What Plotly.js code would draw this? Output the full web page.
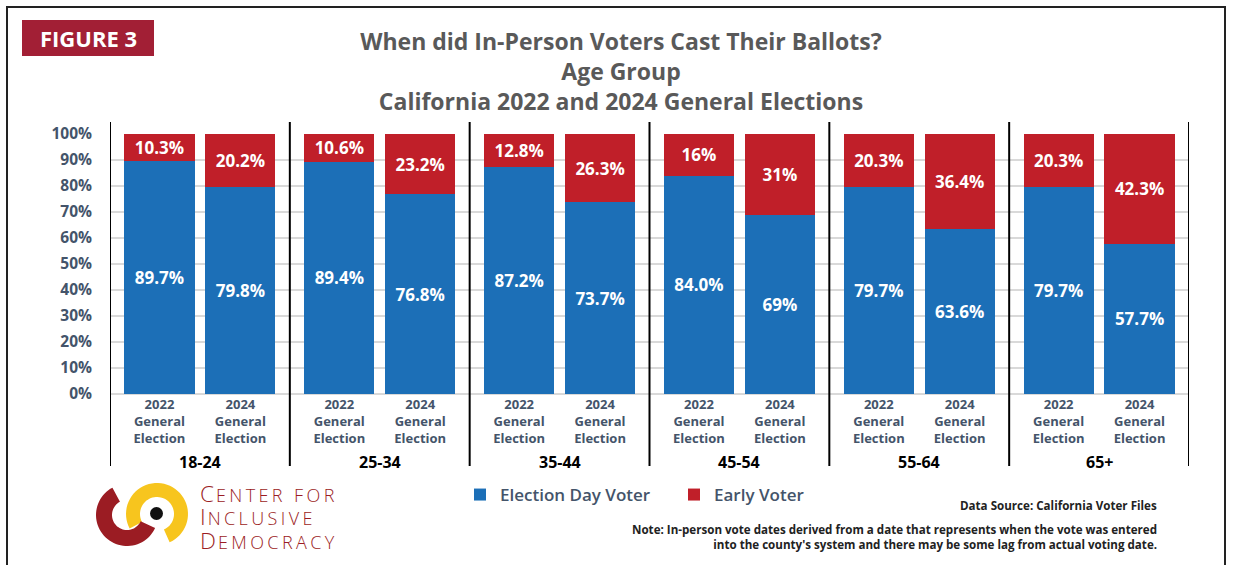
<!DOCTYPE html>
<html>
<head>
<meta charset="utf-8">
<script src="https://cdn.plot.ly/plotly-3.0.1.min.js"></script>
<style>html,body{margin:0;padding:0;background:#fff;}#chart{width:1233px;height:565px;}</style>
</head>
<body>
<div id="chart"></div>
<script>
// ---------- DATA ----------
const ageGroups = ['18-24', '25-34', '35-44', '45-54', '55-64', '65+'];
const electionYears = ['2022', '2024'];
const electionDay2022 = [89.7, 89.4, 87.2, 84.0, 79.7, 79.7];
const electionDay2024 = [79.8, 76.8, 73.7, 69, 63.6, 57.7];
const early2022 = [10.3, 10.6, 12.8, 16, 20.3, 20.3];
const early2024 = [20.2, 23.2, 26.3, 31, 36.4, 42.3];
const electionDayLabels2022 = ['89.7%', '89.4%', '87.2%', '84.0%', '79.7%', '79.7%'];
const electionDayLabels2024 = ['79.8%', '76.8%', '73.7%', '69%', '63.6%', '57.7%'];
const earlyLabels2022 = ['10.3%', '10.6%', '12.8%', '16%', '20.3%', '20.3%'];
const earlyLabels2024 = ['20.2%', '23.2%', '26.3%', '31%', '36.4%', '42.3%'];
const yTicks = [0, 10, 20, 30, 40, 50, 60, 70, 80, 90, 100];

// ---------- LAYOUT HELPERS ----------
const L = 110, T = 134, W = 1079, H = 260;
const px = v => (v - L) / W;
const py = v => (T + H - v) / H;
const slotOffset = [0.275, 0.725];
const barWidth = 0.39;

const xs = [], dayY = [], earlyY = [], dayT = [], earlyT = [], tickText = [];
ageGroups.forEach((g, i) => {
  xs.push(i + slotOffset[0], i + slotOffset[1]);
  dayY.push(electionDay2022[i], electionDay2024[i]);
  earlyY.push(early2022[i], early2024[i]);
  dayT.push(electionDayLabels2022[i], electionDayLabels2024[i]);
  earlyT.push(earlyLabels2022[i], earlyLabels2024[i]);
  electionYears.forEach(yr => tickText.push(yr + '<br>General<br>Election'));
});

const BLUE = '#1c6fb7', RED = '#c01f29', SLATE = '#44546a';
const barFont = {family: 'Open Sans', size: 17, color: '#ffffff', weight: 700};

const traces = [
  {type: 'bar', name: 'Election Day Voter', x: xs, y: dayY, text: dayT, width: barWidth,
   marker: {color: BLUE}, textposition: 'inside', insidetextanchor: 'middle',
   textfont: barFont, constraintext: 'none', hoverinfo: 'skip'},
  {type: 'bar', name: 'Early Voter', x: xs, y: earlyY, text: earlyT, width: barWidth,
   marker: {color: RED}, textposition: 'inside', insidetextanchor: 'middle',
   textfont: barFont, constraintext: 'none', hoverinfo: 'skip'}
];

const annotations = [];
const shapes = [];
ageGroups.forEach((g, i) => {
  annotations.push({x: i + 0.5, xref: 'x', y: py(462), yref: 'paper', text: g, showarrow: false,
    yanchor: 'middle', font: {family: 'Open Sans', size: 16, color: '#000', weight: 700}});
});
for (let i = 0; i <= ageGroups.length; i++) {
  shapes.push({type: 'line', xref: 'x', yref: 'paper', x0: i, x1: i, y0: py(466), y1: py(122),
    line: {color: '#000', width: 2}});
}
// outer frame
shapes.push({type: 'rect', xref: 'paper', yref: 'paper', x0: px(7), x1: px(1225), y0: py(590), y1: py(7),
  line: {color: '#222', width: 2}, fillcolor: 'rgba(0,0,0,0)', layer: 'below'});
// FIGURE 3 box
shapes.push({type: 'rect', xref: 'paper', yref: 'paper', x0: px(22), x1: px(154), y0: py(56), y1: py(20),
  line: {width: 0}, fillcolor: '#a21f35'});
annotations.push({x: px(88), y: py(38), xref: 'paper', yref: 'paper', text: 'FIGURE 3', showarrow: false,
  xanchor: 'center', yanchor: 'middle', font: {family: 'Open Sans', size: 22, color: '#fff', weight: 700}});

// logo rings
function ring(cx, cy, ri, ro, a0, a1) {
  const n = 48, pts = [];
  for (let k = 0; k <= n; k++) {
    const a = (a0 + (a1 - a0) * k / n) * Math.PI / 180;
    pts.push([cx + ro * Math.cos(a), cy - ro * Math.sin(a)]);
  }
  for (let k = n; k >= 0; k--) {
    const a = (a0 + (a1 - a0) * k / n) * Math.PI / 180;
    pts.push([cx + ri * Math.cos(a), cy - ri * Math.sin(a)]);
  }
  return 'M' + pts.map(p => px(p[0]).toFixed(5) + ',' + py(p[1]).toFixed(5)).join('L') + 'Z';
}
shapes.push({type: 'path', xref: 'paper', yref: 'paper', path: ring(157, 514, 17, 31, -66, 208),
  fillcolor: '#f7c51e', line: {width: 0}});
shapes.push({type: 'path', xref: 'paper', yref: 'paper', path: ring(127, 515, 15, 31, 118, 335),
  fillcolor: '#9b1c23', line: {width: 0}});
shapes.push({type: 'circle', xref: 'paper', yref: 'paper', x0: px(150), x1: px(163), y0: py(520), y1: py(507),
  fillcolor: '#111', line: {width: 0}});
const logoLines = ['C|ENTER FOR', 'I|NCLUSIVE', 'D|EMOCRACY'];
const logoText = logoLines.map(t => {
  const parts = t.split('|');
  return '<span style="font-size:22.5px;letter-spacing:2px">' + parts[0] + '</span><span style="letter-spacing:3.4px">' + parts[1] + '</span>';
}).join('<br>');
annotations.push({x: px(198), y: py(517), xref: 'paper', yref: 'paper', showarrow: false,
  xanchor: 'left', yanchor: 'middle', align: 'left', text: logoText,
  font: {family: 'Open Sans', size: 18, color: '#9b1c23', weight: 300}});

// source + notes
const noteFont = {family: 'Open Sans', size: 11.6, color: '#222', weight: 700};
annotations.push({x: px(1159), y: py(505), xref: 'paper', yref: 'paper', showarrow: false, xanchor: 'right',
  yanchor: 'middle', text: 'Data Source: California Voter Files', font: noteFont});
annotations.push({x: px(1159), y: py(537), xref: 'paper', yref: 'paper', showarrow: false, xanchor: 'right',
  yanchor: 'middle', align: 'right',
  text: "Note: In-person vote dates derived from a date that represents when the vote was entered<br>into the county's system and there may be some lag from actual voting date.",
  font: noteFont});

const layout = {
  width: 1233, height: 565,
  margin: {l: L, r: 1233 - L - W, t: T, b: 565 - T - H, pad: 0},
  paper_bgcolor: '#fff', plot_bgcolor: '#fff',
  font: {family: 'Open Sans', color: SLATE},
  barmode: 'stack',
  title: {text: 'When did In-Person Voters Cast Their Ballots?<br>Age Group<br>California 2022 and 2024 General Elections',
    font: {family: 'Open Sans', size: 23, color: '#595959', weight: 700},
    xref: 'container', yref: 'container', x: 621 / 1233, xanchor: 'center', y: 1 - 50 / 565, yanchor: 'top'},
  xaxis: {range: [0, ageGroups.length], tickvals: xs, ticktext: tickText, showgrid: false, zeroline: false,
    showline: false, ticks: '', fixedrange: true, tickangle: 0, ticklabelstandoff: 1,
    tickfont: {family: 'Open Sans', size: 13, color: SLATE, weight: 700}},
  yaxis: {range: [0, 100], tickvals: yTicks, ticktext: yTicks.map(v => v + '%'), showgrid: true,
    gridcolor: '#d9d9d9', gridwidth: 1.5, zeroline: true, zerolinecolor: '#d9d9d9', zerolinewidth: 1.5,
    showline: false, ticks: '', ticklabelstandoff: 17, fixedrange: true,
    tickfont: {family: 'Open Sans', size: 15.5, color: SLATE, weight: 700}},
  showlegend: true,
  legend: {orientation: 'h', xref: 'paper', yref: 'paper', x: px(460), y: py(495), xanchor: 'left', yanchor: 'middle',
    entrywidth: 169, entrywidthmode: 'pixels', itemwidth: 30, traceorder: 'normal',
    font: {family: 'Open Sans', size: 17, color: SLATE, weight: 600}, bgcolor: 'rgba(0,0,0,0)'},
  annotations: annotations,
  shapes: shapes
};

Plotly.newPlot('chart', traces, layout, {displayModeBar: false, staticPlot: true});
</script>
</body>
</html>
